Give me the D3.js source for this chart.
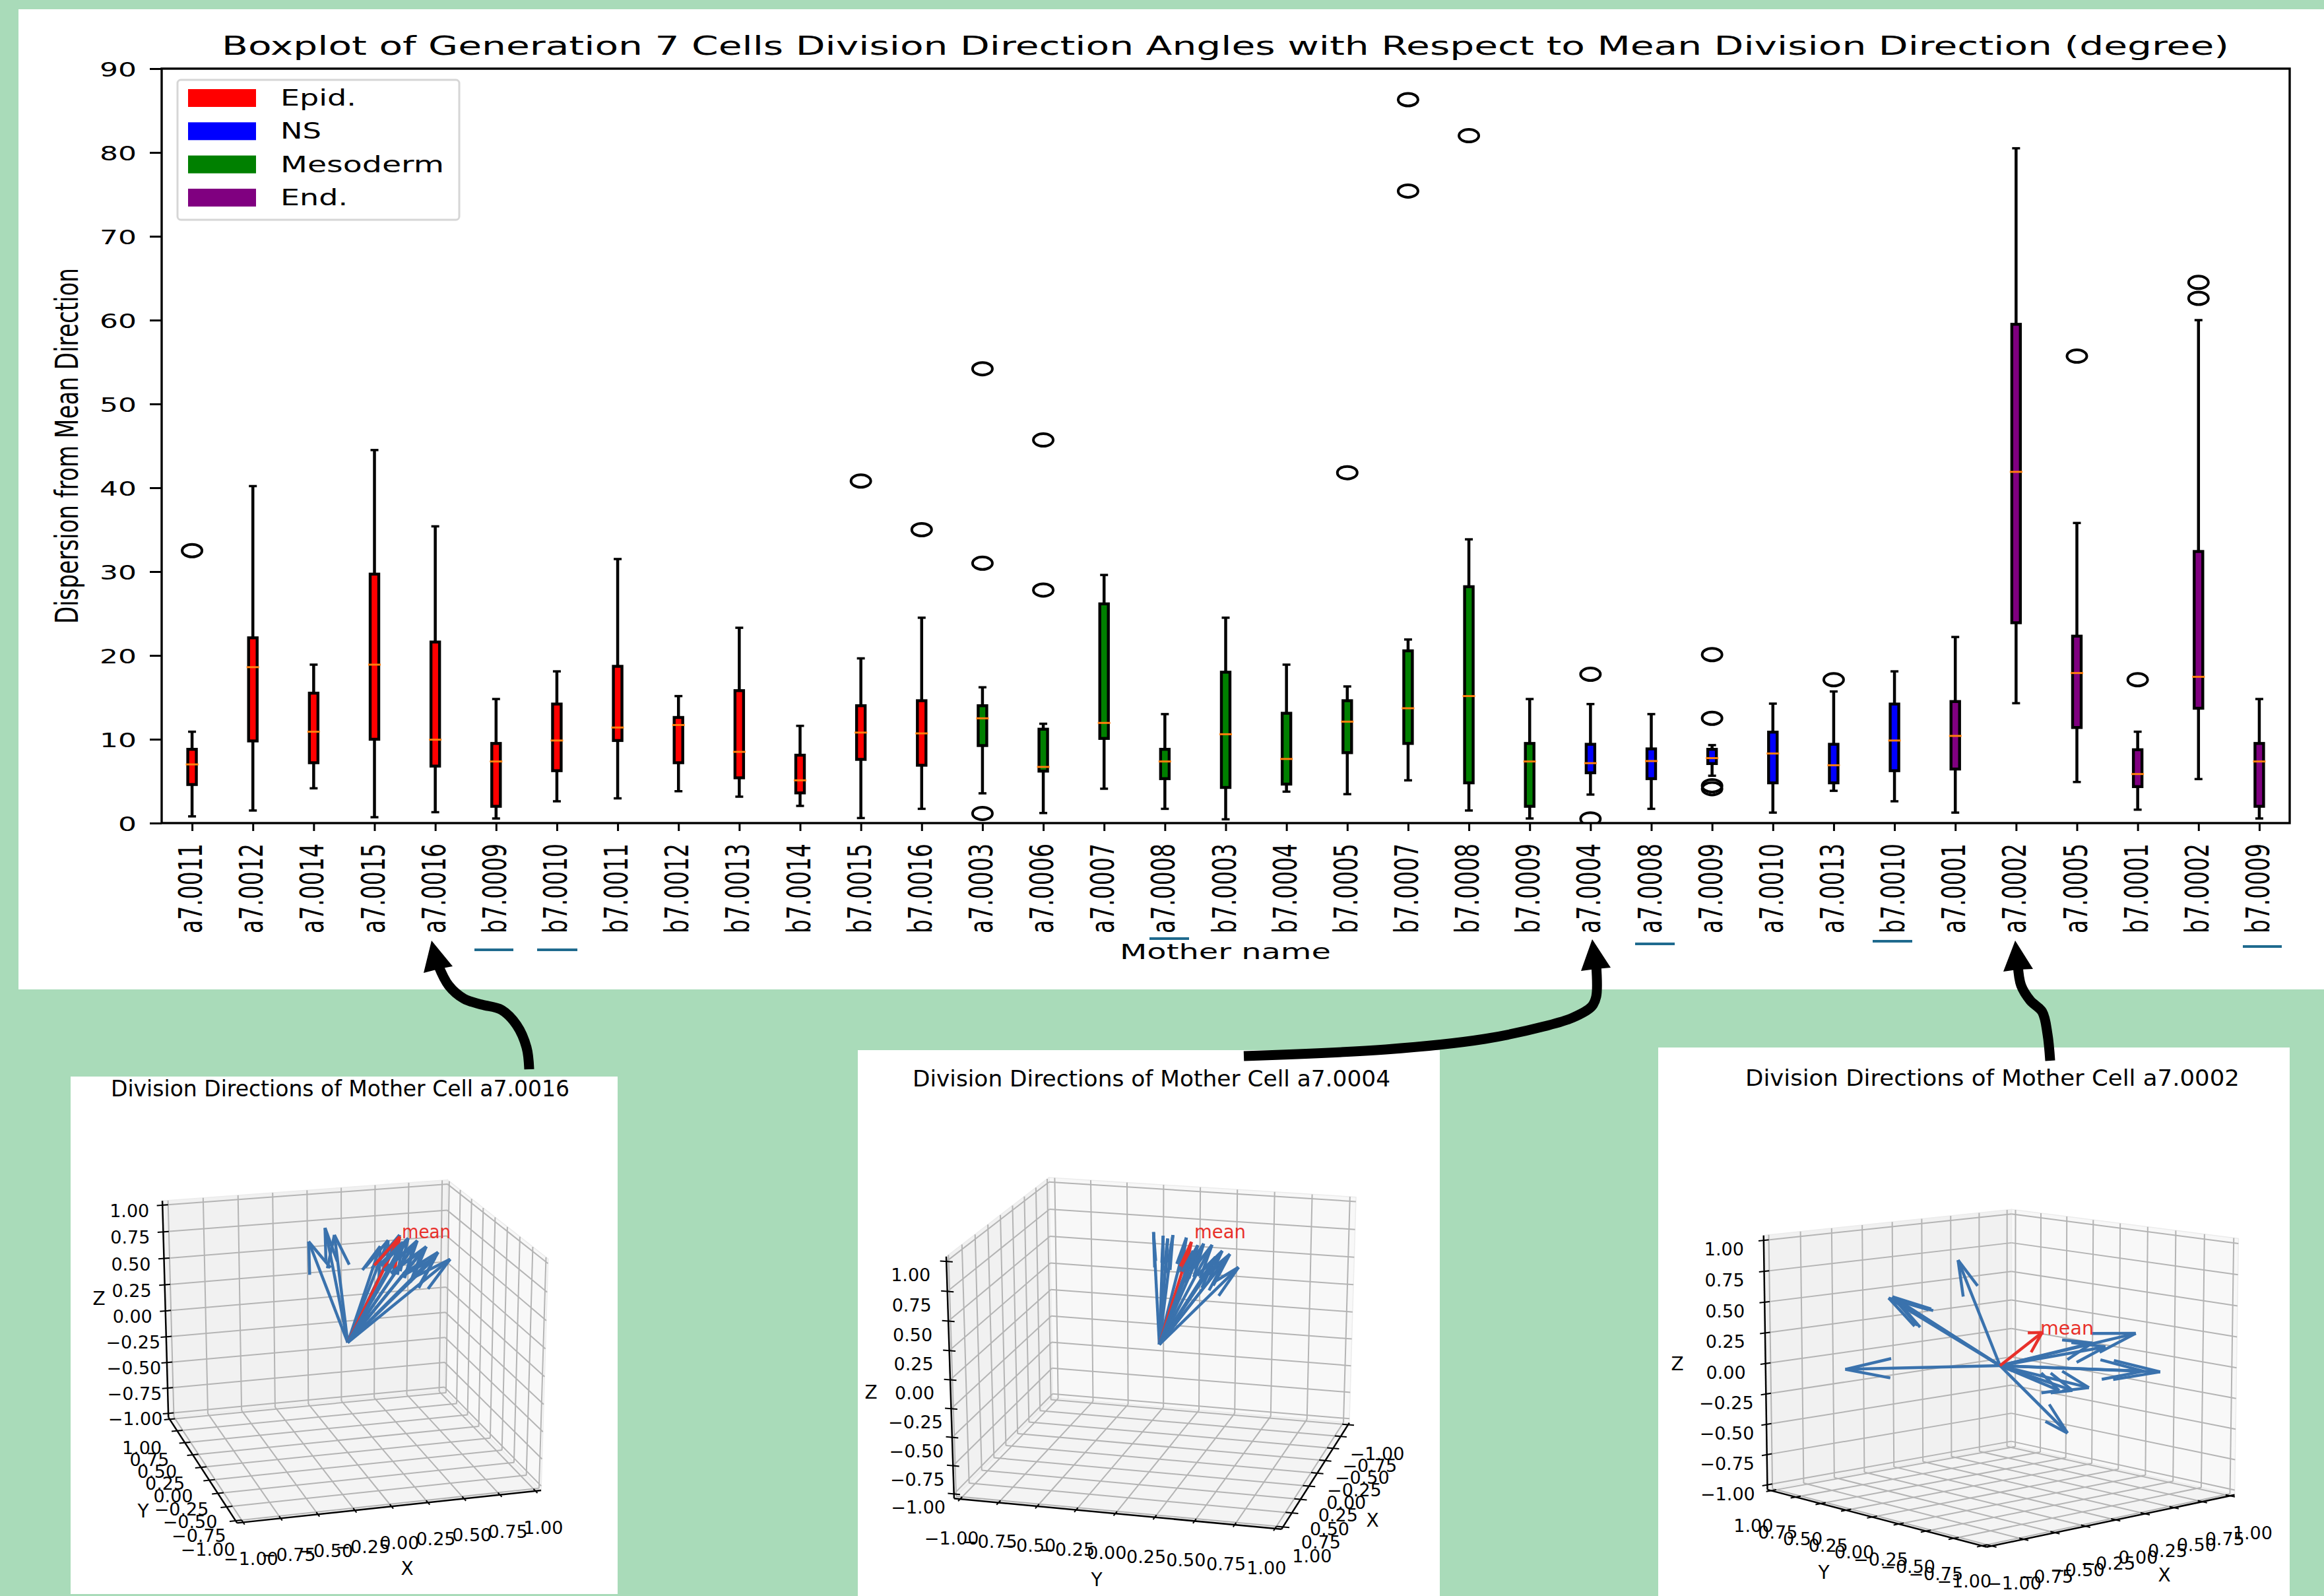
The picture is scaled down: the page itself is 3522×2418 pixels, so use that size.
<!DOCTYPE html>
<html>
<head>
<meta charset="utf-8">
<script src="https://cdn.jsdelivr.net/npm/d3@7/dist/d3.min.js"></script>
<style>
  html, body { margin: 0; padding: 0; background: #a9dbb9; }
  svg { display: block; }
  text { font-family: "DejaVu Sans", sans-serif; fill: #000; }
</style>
</head>
<body>
<script>
// boxplot values (degrees)
var mothers = ["a7.0011","a7.0012","a7.0014","a7.0015","a7.0016","b7.0009","b7.0010","b7.0011","b7.0012","b7.0013","b7.0014","b7.0015","b7.0016",
  "a7.0003","a7.0006","a7.0007","a7.0008","b7.0003","b7.0004","b7.0005","b7.0007","b7.0008","b7.0009",
  "a7.0004","a7.0008","a7.0009","a7.0010","a7.0013","b7.0010",
  "a7.0001","a7.0002","a7.0005","b7.0001","b7.0002","b7.0009"];
var tissue = ["Epid.","Epid.","Epid.","Epid.","Epid.","Epid.","Epid.","Epid.","Epid.","Epid.","Epid.","Epid.","Epid.",
  "Mesoderm","Mesoderm","Mesoderm","Mesoderm","Mesoderm","Mesoderm","Mesoderm","Mesoderm","Mesoderm","Mesoderm",
  "NS","NS","NS","NS","NS","NS",
  "End.","End.","End.","End.","End.","End."];
var whiskerLow = [0.8,1.5,4.15,0.7,1.3,0.55,2.6,2.95,3.8,3.15,2.05,0.6,1.7,3.55,1.2,4.1,1.7,0.45,3.75,3.45,5.1,1.5,0.55,3.4,1.7,5.65,1.25,3.85,2.6,1.25,14.3,4.9,1.6,5.25,0.55];
var q1 = [4.6,9.8,7.2,10,6.8,2.0,6.25,9.85,7.2,5.4,3.6,7.6,6.9,9.25,6.2,10.1,5.3,4.25,4.65,8.4,9.5,4.8,2.0,6.0,5.3,7.1,4.8,4.8,6.25,6.45,23.9,11.4,4.35,13.7,2.0];
var median = [7.0,18.6,10.9,18.9,9.95,7.35,9.85,11.4,11.7,8.5,5.1,10.8,10.7,12.5,6.7,11.95,7.35,10.6,7.65,12.1,13.7,15.15,7.35,7.15,7.4,7.75,8.3,6.9,9.85,10.4,41.9,17.9,5.85,17.45,7.35];
var q3 = [8.8,22.1,15.5,29.7,21.6,9.5,14.2,18.7,12.6,15.8,8.1,14.0,14.6,14.0,11.2,26.15,8.8,18.0,13.1,14.6,20.55,28.2,9.5,9.4,8.85,8.8,10.85,9.4,14.2,14.5,59.5,22.3,8.75,32.4,9.5];
var whiskerHigh = [10.9,40.2,18.9,44.5,35.4,14.8,18.1,31.5,15.15,23.3,11.6,19.65,24.5,16.2,11.85,29.6,13,24.5,18.9,16.3,21.9,33.85,14.8,14.2,13,9.3,14.25,15.7,18.1,22.2,80.5,35.8,10.9,60,14.8];
var outliers = [[32.5],[],[],[],[],[],[],[],[],[],[],[40.8],[35],[54.2,31,1.15],[45.7,27.8],[],[],[],[],[41.8],[86.3,75.4],[82],[],[17.75,0.5],[],[20.1,12.5,4.45,4.1],[],[17.1],[],[],[],[55.7],[17.1],[64.5,62.6],[]];
var tissueNames = ["Epid.","NS","Mesoderm","End."];
var tissueColors = ["#ff0000","#0000ff","#008000","#800080"];
var yTicks = [0,10,20,30,40,50,60,70,80,90];

// arrow tips of the 3d insets as [horizontal, vertical] in axis units on the view plane
var tips16 = [[-0.26,0.734],[-0.154,0.849],[-0.089,0.785],[0.215,0.696],[0.269,0.745],[0.327,0.73],[0.35,0.794],[0.369,0.734],[0.408,0.77],[0.44,0.706],[0.471,0.755],[0.498,0.67],[0.529,0.706],[0.583,0.619],[0.61,0.667],[0.695,0.618]];
var mean16 = [0.35,0.779];
var tips04 = [[-0.038,0.853],[0.025,0.828],[0.054,0.809],[0.088,0.833],[0.176,0.814],[0.222,0.72],[0.251,0.76],[0.289,0.77],[0.343,0.76],[0.368,0.672],[0.41,0.716],[0.431,0.647],[0.46,0.691],[0.519,0.593]];
var mean04 = [0.209,0.784];
var tips02 = [[-0.947,-0.023],[-0.676,0.417],[-0.652,0.424],[-0.63,0.408],[-0.255,0.652],[0.823,0.199],[0.63,0.114],[0.55,0.137],[0.992,-0.039],[0.87,-0.034],[0.528,-0.133],[0.429,-0.149],[0.349,-0.149],[0.402,-0.408]];
var mean02 = [0.249,0.199];
var cubeTicks = [-1,-0.75,-0.5,-0.25,0,0.25,0.5,0.75,1];

var W = 3522, H = 2418;
var svg = d3.select("body").append("svg").attr("width", W).attr("height", H);
svg.append("rect").attr("width", W).attr("height", H).attr("fill", "#a9dbb9");
svg.append("rect").attr("x", 28).attr("y", 14).attr("width", W - 28).attr("height", 1485).attr("fill", "#fff");

//squeezed text, the source figures were stretched so font size and width are given apart
function fit(sel, size, len) {
    return sel.attr("font-size", size).attr("textLength", len).attr("lengthAdjust", "spacingAndGlyphs");
}

// ---------- main boxplot ----------
var left = 245, right = 3470, top_ = 104, bottom = 1247;
var x = d3.scaleLinear().domain([0.5, 35.5]).range([left, right]);
var y = d3.scaleLinear().domain([0, 90]).range([bottom, top_]);
var color = d3.scaleOrdinal().domain(tissueNames).range(tissueColors);

fit(svg.append("text").attr("x", 336).attr("y", 83), 39, 3042)
    .text("Boxplot of Generation 7 Cells Division Direction Angles with Respect to Mean Division Direction (degree)");

svg.append("clipPath").attr("id", "plotArea").append("rect")
    .attr("x", left).attr("y", top_).attr("width", right - left).attr("height", bottom - top_);

var plot = svg.append("g").attr("clip-path", "url(#plotArea)");
var boxes = plot.selectAll("g.box").data(mothers).enter().append("g").attr("class", "box");

boxes.append("line").attr("x1", function(d,i){return x(i+1);}).attr("x2", function(d,i){return x(i+1);})
    .attr("y1", function(d,i){return y(whiskerLow[i]);}).attr("y2", function(d,i){return y(q1[i]);})
    .attr("stroke", "#000").attr("stroke-width", 4.5);
boxes.append("line").attr("x1", function(d,i){return x(i+1);}).attr("x2", function(d,i){return x(i+1);})
    .attr("y1", function(d,i){return y(q3[i]);}).attr("y2", function(d,i){return y(whiskerHigh[i]);})
    .attr("stroke", "#000").attr("stroke-width", 4.5);
[whiskerLow, whiskerHigh].forEach(function(w) {
    boxes.append("line").attr("x1", function(d,i){return x(i+1)-6;}).attr("x2", function(d,i){return x(i+1)+6;})
        .attr("y1", function(d,i){return y(w[i]);}).attr("y2", function(d,i){return y(w[i]);})
        .attr("stroke", "#000").attr("stroke-width", 3.5);
});
boxes.append("rect").attr("x", function(d,i){return x(i+1)-6.5;}).attr("width", 13)
    .attr("y", function(d,i){return y(q3[i]);}).attr("height", function(d,i){return y(q1[i])-y(q3[i]);})
    .attr("fill", function(d,i){return color(tissue[i]);}).attr("stroke", "#000").attr("stroke-width", 4.4);
boxes.append("line").attr("x1", function(d,i){return x(i+1)-9.5;}).attr("x2", function(d,i){return x(i+1)+9.5;})
    .attr("y1", function(d,i){return y(median[i]);}).attr("y2", function(d,i){return y(median[i]);})
    .attr("stroke", "#ff7f0e").attr("stroke-width", 3);
boxes.each(function(d,i) {
    d3.select(this).selectAll("ellipse").data(outliers[i]).enter().append("ellipse")
        .attr("cx", x(i+1)).attr("cy", function(v){return y(v);}).attr("rx", 15).attr("ry", 9.5)
        .attr("fill", "none").attr("stroke", "#000").attr("stroke-width", 4);
});

svg.append("rect").attr("x", left).attr("y", top_).attr("width", right - left).attr("height", bottom - top_)
    .attr("fill", "none").attr("stroke", "#000").attr("stroke-width", 3.4);

var yAxis = svg.append("g").attr("transform", "translate(" + left + ",0)")
    .call(d3.axisLeft(y).tickValues(yTicks).tickSize(18).tickPadding(20));
yAxis.select(".domain").remove();
yAxis.selectAll("line").attr("stroke-width", 3);
yAxis.selectAll("text").each(function(d) {
    fit(d3.select(this), 31, String(d).length * 28);
}).attr("font-family", "DejaVu Sans").attr("fill", "#000").attr("dy", "0.38em");

var xAxis = svg.append("g").attr("transform", "translate(0," + bottom + ")")
    .call(d3.axisBottom(x).tickValues(d3.range(1, 36)).tickSize(12).tickFormat(function(d){return mothers[d-1];}));
xAxis.select(".domain").remove();
xAxis.selectAll("line").attr("stroke-width", 3);
xAxis.selectAll("text").each(function() {
    fit(d3.select(this), 50, 136);
}).attr("font-family", "DejaVu Sans").attr("fill", "#000")
    .attr("transform", "rotate(-90)").attr("text-anchor", "end")
    .attr("x", -31).attr("y", 14.5).attr("dy", 0);

fit(svg.append("text").attr("x", 1697).attr("y", 1453), 32, 320).text("Mother name");
fit(svg.append("text").attr("transform", "translate(118,945) rotate(-90)"), 48, 539).text("Dispersion from Mean Direction");

// little teal marks under some of the labels
[[719,778,1439],[814,875,1439],[1742,1802,1422],[2478,2538,1430],[2838,2898,1426],[3399,3458,1434]].forEach(function(m) {
    svg.append("line").attr("x1", m[0]).attr("x2", m[1]).attr("y1", m[2]).attr("y2", m[2])
        .attr("stroke", "#1f6a8e").attr("stroke-width", 4);
});

// legend
svg.append("rect").attr("x", 269).attr("y", 121).attr("width", 427).attr("height", 212).attr("rx", 5)
    .attr("fill", "#fff").attr("stroke", "#d6d6d6").attr("stroke-width", 3);
var legendWidths = [115, 62, 248, 102];
var legend = svg.selectAll("g.legend").data(tissueNames).enter().append("g").attr("class", "legend")
    .attr("transform", function(d,i){ return "translate(285," + (135 + i * 50.3) + ")"; });
legend.append("rect").attr("width", 103).attr("height", 27).attr("fill", function(d){return color(d);});
legend.append("text").attr("x", 140).attr("y", 25).attr("font-size", 34)
    .attr("textLength", function(d,i){return legendWidths[i];}).attr("lengthAdjust", "spacingAndGlyphs")
    .text(function(d){return d;});

// ---------- 3d insets ----------
var LIM = 1.04, DIST = 17.5, RAD = Math.PI / 180;

function makeCamera(c) {
    var se = Math.sin(c.elev*RAD), ce = Math.cos(c.elev*RAD), sa = Math.sin(c.azim*RAD), ca = Math.cos(c.azim*RAD);
    var sx = d3.scaleLinear().domain([-1, 1]).range([c.cx - c.sx, c.cx + c.sx]);
    var sy = d3.scaleLinear().domain([-1, 1]).range([c.cy + c.sy, c.cy - c.sy]);
    return {
        project: function(p) {
            var wz = p[2] * c.az;
            var h = -sa*p[0] + ca*p[1];
            var v = -se*ca*p[0] - se*sa*p[1] + ce*wz;
            var d = ce*ca*p[0] + ce*sa*p[1] + se*wz;
            var f = DIST / (DIST - d);
            return [sx(h*f), sy(v*f)];
        },
        //direction on the unit sphere which lands on a tip read in view plane units
        lift: function(t) {
            var k = ce * c.az, a2 = k*k/(se*se) + 1, b = -2*k*t[1]/(se*se), cc = t[1]*t[1]/(se*se) + t[0]*t[0] - 1;
            var disc = Math.max(0, b*b - 4*a2*cc);
            var z = (-b + (c.side || 1) * Math.sqrt(disc)) / (2*a2);
            var s = (k*z - t[1]) / se;
            return [-sa*t[0] + ca*s, ca*t[0] + sa*s, z];
        }
    };
}

// same head as a mpl quiver: two barbs turned 15 degrees about a level axis
function barb(p, sign) {
    var ax = [p[1], -p[0], 0], n = Math.sqrt(ax[0]*ax[0] + ax[1]*ax[1]) || 1;
    ax = [ax[0]/n, ax[1]/n, 0];
    var th = 15*RAD*sign, co = Math.cos(th), si = Math.sin(th);
    var dot = ax[0]*p[0] + ax[1]*p[1];
    var cr = [ax[1]*p[2], -ax[0]*p[2], ax[0]*p[1] - ax[1]*p[0]];
    var rot = [0,1,2].map(function(i){ return p[i]*co + cr[i]*si + ax[i]*dot*(1-co); });
    return [p[0]-0.3*rot[0], p[1]-0.3*rot[1], p[2]-0.3*rot[2]];
}

var line3 = d3.line();

function drawInset(c) {
    var g = svg.append("g");
    var cam = makeCamera(c);
    var pj = cam.project;
    g.append("rect").attr("x", c.panel[0]).attr("y", c.panel[1]).attr("width", c.panel[2]-c.panel[0]).attr("height", c.panel[3]-c.panel[1]).attr("fill", "#fff");
    fit(g.append("text").attr("x", c.title[0]).attr("y", c.title[1]), 33, c.title[2]).text(c.name);

    var wx = c.wallX * LIM, wy = c.wallY * LIM, fl = -LIM;
    function poly(pts, col) {
        g.append("path").attr("d", line3(pts.map(pj)) + "Z").attr("fill", col).attr("stroke", "#ececec").attr("stroke-width", 1.5);
    }
    poly([[wx,-LIM,-LIM],[wx,LIM,-LIM],[wx,LIM,LIM],[wx,-LIM,LIM]], "#f8f8f8");
    poly([[-LIM,wy,-LIM],[LIM,wy,-LIM],[LIM,wy,LIM],[-LIM,wy,LIM]], "#f1f1f1");
    poly([[-LIM,-LIM,fl],[LIM,-LIM,fl],[LIM,LIM,fl],[-LIM,LIM,fl]], "#f4f4f4");

    function seg(a, b, col, w) {
        var pa = pj(a), pb = pj(b);
        g.append("path").attr("d", line3([pa, pb])).attr("stroke", col).attr("stroke-width", w).attr("fill", "none");
    }
    cubeTicks.forEach(function(t) {
        seg([wx,t,-LIM],[wx,t,LIM],"#b4b4b4",2);
        seg([wx,-LIM,t],[wx,LIM,t],"#b4b4b4",2);
        seg([t,wy,-LIM],[t,wy,LIM],"#b4b4b4",2);
        seg([-LIM,wy,t],[LIM,wy,t],"#b4b4b4",2);
        seg([t,-LIM,fl],[t,LIM,fl],"#b4b4b4",2);
        seg([-LIM,t,fl],[LIM,t,fl],"#b4b4b4",2);
    });

    // axis edges
    var ex = c.edgeX * LIM, ey = c.edgeY * LIM, zx = c.zEdge[0]*LIM, zy = c.zEdge[1]*LIM;
    seg([-LIM,ex,fl],[LIM,ex,fl],"#000",2.5);
    seg([ey,-LIM,fl],[ey,LIM,fl],"#000",2.5);
    seg([zx,zy,-LIM],[zx,zy,LIM],"#000",2.5);

    var fmt = d3.format(".2f");
    function label(p, off, t) {
        var q = pj(p);
        g.append("text").attr("x", q[0]+off[0]).attr("y", q[1]+off[1]+10).attr("text-anchor", "middle").attr("font-size", 27).text(t);
    }
    cubeTicks.forEach(function(t) {
        seg([t,ex-0.04,fl],[t,ex+0.04,fl],"#000",2);
        seg([ey-0.04,t,fl],[ey+0.04,t,fl],"#000",2);
        seg(c.zTickX ? [zx-0.04,zy,t] : [zx,zy-0.04,t], c.zTickX ? [zx+0.04,zy,t] : [zx,zy+0.04,t],"#000",2);
        label([t,ex,fl], c.offX, fmt(t));
        label([ey,t,fl], c.offY, fmt(t));
        label([zx,zy,t], c.offZ, fmt(t));
    });
    [["X",c.labX],["Y",c.labY],["Z",c.labZ]].forEach(function(l) {
        g.append("text").attr("x", l[1][0]).attr("y", l[1][1]+10).attr("text-anchor", "middle").attr("font-size", 28).text(l[0]);
    });

    // arrows, the mean goes in among the blue ones like in the original
    function quiver(tip, col, w) {
        var p = cam.lift(tip);
        [barb(p, 1), barb(p, -1)].forEach(function(b) { seg(p, b, col, w); });
        seg([0,0,0], p, col, w);
    }
    c.tips.slice(0, c.meanAt).forEach(function(t) { quiver(t, "#3a72ad", 4.5); });
    quiver(c.mean, "#e8302a", 4.5);
    c.tips.slice(c.meanAt).forEach(function(t) { quiver(t, "#3a72ad", 4.5); });
    fit(g.append("text").attr("x", c.meanLabel[0]).attr("y", c.meanLabel[1]).style("fill", "#e8302a"), 29, c.meanLabel[2]).text("mean");
}

drawInset({ name: "Division Directions of Mother Cell a7.0016", panel: [107,1631,936,2415], title: [168,1661,695],
    elev: 20, azim: -106, az: 0.85, sx: 223, sy: 204, cx: 527, cy: 2034, wallX: 1, wallY: 1, edgeX: -1, edgeY: -1, zEdge: [-1,1], zTickX: true,
    offX: [12,55], offY: [-42,43], offZ: [-50,8], labX: [617,2376], labY: [217,2289], labZ: [150,1967],
    tips: tips16, mean: mean16, meanAt: 7, meanLabel: [609,1876,74] });
drawInset({ name: "Division Directions of Mother Cell a7.0004", panel: [1300,1591,2182,2418], title: [1383,1646,724],
    elev: 20, azim: 15, az: 0.887, sx: 239, sy: 204, cx: 1757, cy: 2037, side: -1, wallX: -1, wallY: -1, edgeX: 1, edgeY: 1, zEdge: [1,-1], zTickX: false,
    offX: [44,44], offY: [-13,59], offZ: [-54,20], labX: [2080,2303], labY: [1662,2393], labZ: [1320,2109],
    tips: tips04, mean: mean04, meanAt: 5, meanLabel: [1810,1876,78] });
drawInset({ name: "Division Directions of Mother Cell a7.0002", panel: [2513,1587,3470,2418], title: [2645,1645,749],
    elev: 10, azim: -132, az: 0.79, sx: 243, sy: 239, cx: 3031, cy: 2069, wallX: 1, wallY: 1, edgeX: -1, edgeY: -1, zEdge: [-1,1], zTickX: true,
    offX: [34,56], offY: [-27,53], offZ: [-60,13], labX: [3280,2386], labY: [2764,2382], labZ: [2542,2066],
    tips: tips02, mean: mean02, meanAt: 14, meanLabel: [3092,2022,81] });

// ---------- black curved arrows from the insets up to the boxplot ----------
var curve = d3.line().curve(d3.curveCatmullRom.alpha(0.5));
function bigArrow(shaft, head, w) {
    svg.append("path").attr("d", curve(shaft)).attr("fill", "none").attr("stroke", "#000").attr("stroke-width", w);
    svg.append("path").attr("d", d3.line()(head) + "Z").attr("fill", "#000");
}
bigArrow([[802,1620],[798,1587],[783,1553],[760,1530],[730,1522],[703,1513],[680,1493],[664,1462]],
    [[654,1425],[642,1474],[665,1468],[686,1464]], 15);
bigArrow([[1885,1600],[2100,1590],[2250,1574],[2340,1555],[2383,1542],[2412,1525],[2419,1510],[2419,1462]],
    [[2413,1423],[2396,1471],[2419,1468],[2441,1466]], 15);
bigArrow([[3107,1607],[3103,1567],[3095,1533],[3077,1516],[3063,1493],[3058,1462]],
    [[3054,1425],[3036,1472],[3058,1469],[3081,1468]], 15);
</script>
</body>
</html>
